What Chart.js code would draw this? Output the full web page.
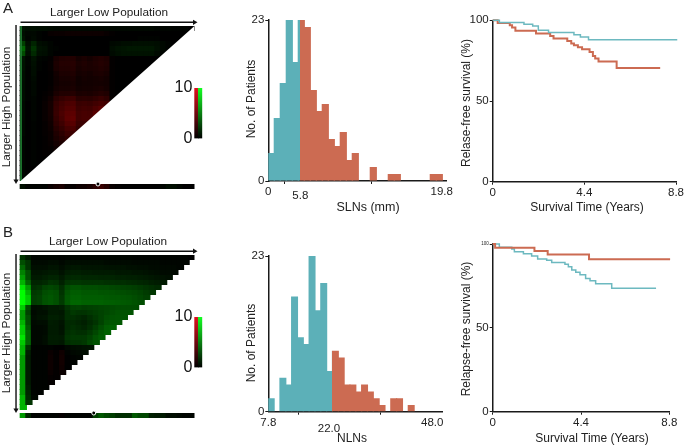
<!DOCTYPE html>
<html>
<head>
<meta charset="utf-8">
<script src="https://cdn.jsdelivr.net/npm/chart.js@4/dist/chart.umd.js"></script>
<style>
html, body { margin: 0; padding: 0; background: #fff; }
#page { position: relative; width: 685px; height: 445px; overflow: hidden; font-family: "Liberation Sans", Arial, sans-serif; color: #222; }
canvas { position: absolute; filter: blur(0.3px); }
canvas.heat { filter: blur(0.5px); }
#heatA { left: 0; top: 0; filter: blur(0.7px); }
#heatB { left: 0; top: 220px; }
#barA { left: 165px; top: 75px; }
#barB { left: 165px; top: 304px; }
#histA { left: 235px; top: 0; }
#histB { left: 235px; top: 225px; }
#kmA { left: 455px; top: 0; }
#kmB { left: 455px; top: 225px; }
.t { position: absolute; font-size: 12px; white-space: nowrap; transform: translate(-50%, -50%); }
.v { transform: translate(-50%, -50%) rotate(-90deg); }
.big { font-size: 15px; }
</style>
</head>
<body>
<div id="page">
  <canvas id="heatA" class="heat" width="200" height="200"></canvas>
  <canvas id="heatB" class="heat" width="200" height="205"></canvas>
  <canvas id="barA" width="45" height="75"></canvas>
  <canvas id="barB" width="45" height="75"></canvas>
  <canvas id="histA" width="220" height="220"></canvas>
  <canvas id="histB" width="220" height="220"></canvas>
  <canvas id="kmA" width="230" height="220"></canvas>
  <canvas id="kmB" width="230" height="220"></canvas>

  <div class="t big" style="left:8px;top:7px">A</div>
  <div class="t big" style="left:8px;top:231px">B</div>
  <div class="t" style="left:109px;top:11.5px;font-size:11.8px">Larger Low Population</div>
  <div class="t" style="left:108px;top:241px;font-size:11.8px">Larger Low Population</div>
  <div class="t v" style="left:5.5px;top:107px;font-size:11.8px">Larger High Population</div>
  <div class="t v" style="left:5.5px;top:333px;font-size:11.8px">Larger High Population</div>
  <div class="t v" style="left:251px;top:99px">No. of Patients</div>
  <div class="t v" style="left:251px;top:343px">No. of Patients</div>
  <div class="t" style="left:368px;top:207px;font-size:12.5px">SLNs (mm)</div>
  <div class="t" style="left:352px;top:438px">NLNs</div>
  <div class="t v" style="left:466px;top:103px">Relase-free survival (%)</div>
  <div class="t v" style="left:466px;top:329px">Relapse-free survival (%)</div>
  <div class="t" style="left:587px;top:207px">Survival Time (Years)</div>
  <div class="t" style="left:592px;top:438px">Survival Time (Years)</div>
</div>

<script>
// Heat maps: positive = green, negative = red, scale 0..10
const heatRowsA = [
  [.8,.6,.6,.5,.5,.4,.3,.3,.3,.3,.3,.3,.3,.3,.3,.3,.3,.3,.3,.3,.3,.3,.3,.3,.2,.2,.2,.1,.1,.1,0],
  [.6,.3,.3,.1,0,-.3,-.4,-.4,-.5,-.5,-.5,-.5,-.5,-.5,-.5,-.3,-.1,0,0,0,0,0,0,0,0,0,0,0,0,0],
  [.8,.2,.4,.1,0,0,0,0,0,0,0,0,0,0,0,0,0,0,0,0,0,.1,.1,.1,.1,0,0,0,0],
  [2.5,.6,1.4,.5,.4,.2,0,0,0,0,0,0,0,0,0,0,.3,.4,.5,.5,.6,.6,.6,.6,.5,.3,.1,0],
  [4,.8,2,.7,.6,.2,.1,0,0,0,0,0,0,0,0,0,.5,.7,.8,.9,.9,.9,.9,.9,.6,.3,.1],
  [3,.6,1.6,.6,.5,.2,0,0,0,0,0,0,0,0,0,0,.4,.6,.7,.7,.7,.7,.7,.7,.4,.2],
  [.8,.2,.7,.2,.1,-.1,-.9,-1.2,-1.3,-1.3,-.8,-1,-.8,-1.1,-1.3,-1.1,-.1,0,0,0,0,0,0,0,0],
  [.7,.2,.6,.1,0,-.2,-1.1,-1.4,-1.4,-1.5,-1,-1.2,-1,-1.2,-1.4,-1.2,-.1,0,0,0,0,0,0,0],
  [.7,.1,.5,.1,0,-.2,-1,-1.3,-1.3,-1.4,-.9,-1.1,-1,-1.1,-1.3,-1.1,-.1,0,0,0,0,0,0],
  [.6,.1,.5,0,0,-.1,-.7,-1.1,-1.1,-1.2,-.8,-.9,-.8,-1,-1.1,-.9,-.1,0,0,0,0,0],
  [.6,.1,.4,0,0,-.1,-.6,-.9,-.9,-1,-.6,-.8,-.7,-.8,-.9,-.7,-.1,0,0,0,0],
  [.5,.1,.3,0,0,-.1,-.6,-.8,-.8,-.9,-.6,-.7,-.7,-.8,-.8,-.7,-.1,0,0,0],
  [.5,.1,.3,0,0,-.2,-.7,-.9,-.9,-1,-.7,-.8,-.8,-.9,-1,-.8,-.1,0,0],
  [.5,.1,.3,0,-.1,-.3,-1,-1.3,-1.3,-1.4,-1,-1.1,-1,-1.2,-1.4,-1.2,-.1,0],
  [.5,.1,.2,0,-.2,-.6,-1.6,-2,-2.3,-2.4,-1.6,-1.7,-1.6,-1.9,-2.2,-1.8,-.2],
  [.4,0,.2,0,-.3,-.8,-2,-2.5,-2.9,-3,-2.2,-2.3,-2.2,-2.5,-2.8,-2.5],
  [.4,0,.2,0,-.3,-.8,-2.1,-2.7,-3.2,-3.3,-2.4,-2.6,-2.5,-3,-3.5],
  [.4,0,.2,0,-.3,-.8,-2.2,-2.9,-3.5,-3.6,-2.6,-2.8,-2.7,-3.4],
  [.4,0,.2,0,-.3,-.7,-2,-2.7,-3.6,-3.8,-2.6,-2.8,-2.8],
  [.3,0,.1,0,-.2,-.6,-1.8,-2.4,-3.2,-3.4,-2.3,-2.4],
  [.3,0,.1,0,-.2,-.5,-1.5,-2,-2.7,-2.9,-2],
  [.3,0,.1,0,-.2,-.4,-1.2,-1.7,-2.3,-2.4],
  [.2,0,.1,0,-.1,-.4,-1,-1.4,-1.9],
  [.2,0,.1,0,-.1,-.3,-.8,-1.1],
  [.2,0,.1,0,-.1,-.2,-.6],
  [.2,0,.1,0,-.1,-.1],
  [.2,0,.1,0,0],
  [.2,0,.1,0],
  [.2,0,0],
  [.2,0],
  [.2],
];
const stripA = [.6,.1,.1,.1,.1,-.4,-.8,-1,-.3,-.2,-.5,-.6,-.9,-1.6,-2.2,-1.5,-.3,-.1,0,0,0,0,0,0,0,.2,.5,.5,.2,0,0];
const markerColA = 13.8;

const heatRowsB = [
  [2,1,.2,.2,.2,.2,.2,.1,.2,.2,.2,.2,.2,.2,.2,.2,.2,.2,.2,.2,.1,.1,.1,.1,.1,.1,.1,.1,.1,.1,0],
  [3,2,.4,.4,.4,.5,.5,.3,.5,.5,.5,.5,.5,.5,.5,.4,.4,.4,.4,.4,.3,.3,.3,.3,.3,.2,.2,.2,.2,.2],
  [4,2,.6,.6,.6,.8,.8,.5,.8,.9,.9,.8,.8,.8,.8,.7,.7,.7,.7,.6,.6,.5,.5,.4,.4,.3,.3,.3,.2],
  [5,3,.8,.8,.9,1,1,.7,1.1,1.2,1.2,1.1,1.1,1,1,1,1,.9,.9,.9,.8,.8,.7,.6,.5,.4,.4,.3],
  [6,3,1,1,1.2,1.4,1.4,1,1.5,1.6,1.6,1.5,1.5,1.5,1.4,1.4,1.4,1.3,1.3,1.2,1.2,1.1,1,.9,.8,.7,.6],
  [7,4,1.4,1.4,1.6,2,1.9,1.3,2,2.1,2.1,2,2,2,2,1.9,1.9,1.8,1.8,1.7,1.6,1.5,1.4,1.2,1.1,1],
  [9,6,1.8,2,2.6,2.8,2.6,1.8,2.9,3.2,3.2,3,3,3,2.9,2.9,2.8,2.7,2.6,2.5,2.4,2.2,2,1.8,1.6],
  [10,7,2.2,2.4,3,3.2,3,2,3.2,3.6,3.6,3.4,3.4,3.4,3.3,3.3,3.2,3.1,3,2.9,2.8,2.6,2.3,2.1],
  [10,8,2.4,2.6,3.2,3.4,3.1,2.2,3.4,3.8,3.8,3.6,3.6,3.6,3.6,3.5,3.4,3.4,3.3,3.2,3,2.8,2.5],
  [10,8,2.4,2.6,3.2,3.4,3.1,2.3,3.5,4,4,3.8,3.8,3.8,3.8,3.7,3.7,3.6,3.5,3.4,3.2,3],
  [8,3,.5,.6,.8,1,1,1.2,2,2.5,2.6,2.4,2.5,2.6,2.7,2.8,2.9,3,3,3,3],
  [6,2.5,.4,.6,.6,1,1,.9,1.8,2.2,2,2,2.2,2.4,2.6,2.8,3,3.2,3.2,3.2],
  [6,3,.5,.7,.8,1.2,1.2,1,1.8,1.8,1.6,1.4,1.8,2.2,2.6,3,3.2,3.3,3.3],
  [7,3,.4,.5,.5,1.1,1,.8,1.6,1.6,1.4,1.2,1.6,2,2.6,3.2,3.4,3.4],
  [8,3.5,.3,.3,.4,1,1,.7,1.6,1.8,1.6,1.4,1.8,2.4,3,3.6,3.8],
  [8,4,.3,.3,.4,1,1,.8,1.8,2,1.8,1.8,2.2,2.8,3.4,3.8],
  [9,4,.3,.3,.5,1.1,1.1,1,2,2.2,2.2,2.2,2.6,3.2,3.6],
  [8,4,.3,.3,.5,1,1,.9,1.8,2,2,2.2,2.8,3.2],
  [7,2,.1,.1,.1,.1,0,0,.3,.5,.6,.7,.8],
  [7,1.2,.1,.1,.1,-.4,-.1,-.6,.1,.3,.4,.5],
  [6,1,.1,.1,.1,-.5,-.1,-.7,0,.1,.2],
  [6,1,.1,.1,.1,-.5,-.1,-.7,0,.1],
  [6,1,.1,.1,.1,-.5,-.1,-.6,0],
  [6,1,.1,.1,.1,-.4,-.1,-.4],
  [6,1,.1,.1,.1,-.2,-.1],
  [6,1,.1,.1,.1,-.1],
  [6,1.2,.1,.1,.1],
  [6,1.4,.2,.1],
  [7,1.6,.3],
  [7,2],
  [7],
];
const stripB = [6,1.5,.1,.1,.1,.1,.1,-.2,.1,.1,.1,.1,.1,2.4,3.4,2.8,2.4,1.8,1.8,1.8,3.4,2.8,2.8,1.2,1,1,.5,.5,.3,.2,.2];
const markerColB = 13.05;

// Histograms
const slnCounts = [4,9,14,23,17,23,22,13,10,11,6,5,7,3,4,0,0,2,0,0,1,1,0,0,0,0,0,1,1];
const slnTickPos = [0, 5.33, 28.9];
const slnTickLabels = ['0', '5.8', '19.8'];
const slnCutoff = 5.33;

const nlnCounts = [2,0,5,4,17,11,10,23,15,19,6,9,8,4,4,3,4,3,2,1,0,2,2,0,1];
const nlnTickPos = [0, 10.4, 28.1];
const nlnTickLabels = ['7.8', '22.0', '48.0'];
const nlnCutoff = 11;

// Survival curves, time in years and survival in %
const kmTicksX = [0, 4.4, 8.8];
const kmATealTime = [0,.32,1.5,1.92,2.19,2.68,3.9,4.21,4.6,8.86];
const kmATealSurv = [100,98.6,97.5,96.5,93.8,92.4,91.1,89.7,88,88];
const kmARedTime = [0,.24,.82,.93,1.09,2.08,2.76,2.92,3.58,3.77,3.9,4.09,4.29,4.65,4.81,4.92,5.08,5.95,8.04];
const kmARedSurv = [100,98.4,96.9,95.5,93.6,91.8,90.3,88.7,87.2,85.6,84.5,83.3,82.1,80.4,77.9,76.3,74.4,70.5,70.5];
const kmBRedTime = [0,.12,2.08,2.74,4.8,8.84];
const kmBRedSurv = [100,97.8,95.8,93.8,90.9,90.9];
const kmBTealTime = [0,.33,.95,1.08,1.53,1.94,2.24,2.69,2.94,3.6,3.77,3.94,4.14,4.35,4.63,4.85,5.13,5.93,8.14];
const kmBTealSurv = [100,98,97,95.4,94.2,92.8,91,90.3,88.9,87.9,86.5,84.5,83.1,81.7,79.5,78.1,76.3,73.6,73.6];

const TEAL = '#5cb0b8';
const RED = '#cc6b52';
const AXIS = '#1a1a1a';
const FONT = 'Liberation Sans';

Chart.defaults.font.family = FONT;
Chart.defaults.color = '#222';
Chart.defaults.animation = false;
Chart.defaults.responsive = false;
Chart.defaults.plugins.legend.display = false;
Chart.defaults.plugins.tooltip.enabled = false;

function heatColor(v) {
  const c = Math.round(Math.min(Math.abs(v), 10) * 25.5);
  return v < 0 ? `rgb(${c},0,0)` : `rgb(0,${c},0)`;
}

// cells overlap a little so no white seams show between them
function cellBars(values, from, to) {
  return {
    type: 'bar',
    order: 5,
    data: values.map((v, c) => ({ x: c + 0.5, y: [from, to] })),
    backgroundColor: values.map(heatColor),
    barPercentage: 1.3,
    categoryPercentage: 1,
    grouped: false,
  };
}

function arrowLine(points, rotation) {
  return {
    type: 'line',
    order: 1,
    data: points,
    borderColor: '#111',
    borderWidth: 1.4,
    pointRadius: [0, 3],
    pointStyle: 'triangle',
    pointRotation: rotation,
    backgroundColor: '#111',
    pointBackgroundColor: '#111',
    pointBorderWidth: 0,
    clip: false,
  };
}

function heatChart(id, rows, strip, markerCol, pad, rowTop, smoothEdge) {
  // row edges land on whole pixels, upper rows are drawn last and cover the overlap
  const datasets = rows.map((row, r) => cellBars(row, r === 0 ? 0 : r - 0.2, r + 1));
  datasets.push(cellBars(strip, 31.6, 32.6));
  datasets.push(arrowLine([{ x: 0, y: rowTop }, { x: 31, y: rowTop }], 90));
  datasets.push(arrowLine([{ x: -0.8, y: -0.2 }, { x: -0.8, y: 31 }], 180));
  datasets.push({
    type: 'line',
    order: 0,
    data: [{ x: markerCol, y: 31.6 }],
    pointRadius: 2,
    pointBackgroundColor: '#000',
    pointBorderColor: '#fff',
    pointBorderWidth: 1,
    clip: false,
  });
  if (smoothEdge) {
    // panel A has a clean diagonal instead of stairs
    datasets.push({
      type: 'line',
      order: 2,
      data: [{ x: 0, y: 31 }, { x: 31, y: 0 }],
      borderWidth: 0,
      pointRadius: 0,
      backgroundColor: '#fff',
      fill: { value: 31.2 },
    });
    datasets.push({
      type: 'line',
      order: 3,
      data: [{ x: 0.1, y: 0 }, { x: 0.1, y: 31 }],
      borderColor: '#1f7a30',
      borderWidth: 1,
      pointRadius: 0,
    });
  }
  new Chart(document.getElementById(id), {
    type: 'bar',
    data: { datasets },
    options: {
      layout: { padding: pad },
      scales: {
        x: { type: 'linear', display: false, min: -1, max: 31, offset: false },
        y: { type: 'linear', display: false, min: -1, max: 33, reverse: true },
      },
    },
  });
}

function colorBar(id) {
  const fill = (top) => (c) => {
    const area = c.chart.chartArea;
    if (!area) return top;
    const g = c.chart.ctx.createLinearGradient(0, area.bottom, 0, area.top);
    g.addColorStop(0, '#000');
    g.addColorStop(1, top);
    return g;
  };
  new Chart(document.getElementById(id), {
    type: 'bar',
    data: {
      labels: ['red', 'green'],
      datasets: [{
        data: [10, 10],
        backgroundColor: (c) => fill(c.dataIndex === 0 ? '#e0101e' : '#12ff22')(c),
        barPercentage: 1,
        categoryPercentage: 1,
      }],
    },
    options: {
      layout: { padding: { top: 13, right: 7.7, bottom: 10 } },
      scales: {
        x: { display: false },
        y: {
          min: 0,
          max: 10,
          afterFit: (s) => { s.width = 29.3; },
          border: { display: false },
          grid: { display: false, drawTicks: false },
          ticks: { stepSize: 10, padding: 2, color: '#111', font: { size: 16 } },
        },
      },
    },
  });
}

function histChart(id, counts, tickPos, tickLabels, cutoff, xMax, box) {
  new Chart(document.getElementById(id), {
    type: 'bar',
    data: {
      datasets: [{
        data: counts.map((n, i) => ({ x: i + 0.5, y: n })),
        backgroundColor: (c) => {
          const { chartArea: area, scales } = c.chart;
          if (!area) return TEAL;
          const g = c.chart.ctx.createLinearGradient(area.left, 0, area.right, 0);
          const t = (scales.x.getPixelForValue(cutoff) - area.left) / (area.right - area.left);
          g.addColorStop(0, TEAL);
          g.addColorStop(t, TEAL);
          g.addColorStop(t, RED);
          g.addColorStop(1, RED);
          return g;
        },
        barPercentage: 1.2,
        categoryPercentage: 1,
      }],
    },
    options: {
      layout: { padding: { top: box.top, right: box.right } },
      scales: {
        x: {
          type: 'linear',
          offset: false,
          min: 0,
          max: xMax,
          afterBuildTicks: (s) => { s.ticks = tickPos.map((value) => ({ value })); },
          afterFit: (s) => { s.height = box.axisH; },
          border: { color: AXIS, width: 1.5 },
          grid: { drawOnChartArea: false, tickLength: 3, tickColor: AXIS },
          ticks: {
            autoSkip: false,
            maxRotation: 0,
            padding: 1,
            font: (c) => ({ size: 11.5, lineHeight: c.index === 1 ? box.drop : 1.2 }),
            // the cutoff label sits lower than the others
            callback: (v, i) => (i === 1 ? ['', tickLabels[i]] : tickLabels[i]),
          },
        },
        y: {
          min: 0,
          max: 23,
          afterFit: (s) => { s.width = box.axisW; },
          border: { color: AXIS, width: 1.5 },
          grid: { drawOnChartArea: false, tickLength: 3, tickColor: AXIS },
          ticks: { stepSize: 23, padding: 1, font: { size: 11.5 } },
        },
      },
    },
  });
}

function kmChart(id, series, box, smallTop) {
  new Chart(document.getElementById(id), {
    type: 'line',
    data: {
      datasets: series.map((s) => ({
        data: s.time.map((t, i) => ({ x: t, y: s.surv[i] })),
        borderColor: s.color,
        borderWidth: s.width,
        stepped: true,
        pointRadius: 0,
        clip: false,
      })),
    },
    options: {
      layout: { padding: { top: box.top, right: box.right } },
      scales: {
        x: {
          type: 'linear',
          min: 0,
          max: 8.8,
          afterBuildTicks: (s) => { s.ticks = kmTicksX.map((value) => ({ value })); },
          afterFit: (s) => { s.height = box.axisH; },
          border: { color: AXIS, width: 1.5 },
          grid: { drawOnChartArea: false, tickLength: 3, tickColor: AXIS },
          ticks: {
            autoSkip: false,
            maxRotation: 0,
            padding: 1,
            font: { size: 11.5 },
            callback: (v) => (v === 0 ? '0' : v.toFixed(1)),
          },
        },
        y: {
          min: 0,
          max: 100,
          afterFit: (s) => { s.width = 37.7; },
          border: { color: AXIS, width: 1.5 },
          grid: { drawOnChartArea: false, tickLength: 3, tickColor: AXIS },
          ticks: {
            stepSize: 50,
            padding: 1,
            font: (c) => ({ size: smallTop && c.tick && c.tick.value === 100 ? 4.5 : 11.5 }),
          },
        },
      },
    },
  });
}

heatChart('heatA', heatRowsA, stripA, markerColA, { left: 14.9, right: 5.5, top: 21, bottom: 9 }, -0.74, true);
heatChart('heatB', heatRowsB, stripB, markerColB, { left: 14.9, right: 5.5, top: 30, bottom: 5 }, -0.76, false);
colorBar('barA');
colorBar('barB');
histChart('histA', slnCounts, slnTickPos, slnTickLabels, slnCutoff, 29.73, { top: 20, right: 8.3, axisH: 39, axisW: 33.3, drop: 0.6 });
histChart('histB', nlnCounts, nlnTickPos, nlnTickLabels, nlnCutoff, 29.83, { top: 31, right: 12.7, axisH: 33.3, axisW: 33.3, drop: 0.75 });
kmChart('kmA', [
  { time: kmATealTime, surv: kmATealSurv, color: '#6db9c0', width: 1.5 },
  { time: kmARedTime, surv: kmARedSurv, color: RED, width: 2 },
], { top: 20.3, right: 6.7, axisH: 38.3 }, false);
kmChart('kmB', [
  { time: kmBRedTime, surv: kmBRedSurv, color: RED, width: 2 },
  { time: kmBTealTime, surv: kmBTealSurv, color: '#6db9c0', width: 1.5 },
], { top: 19, right: 15.7, axisH: 33.3 }, true);
</script>
</body>
</html>
